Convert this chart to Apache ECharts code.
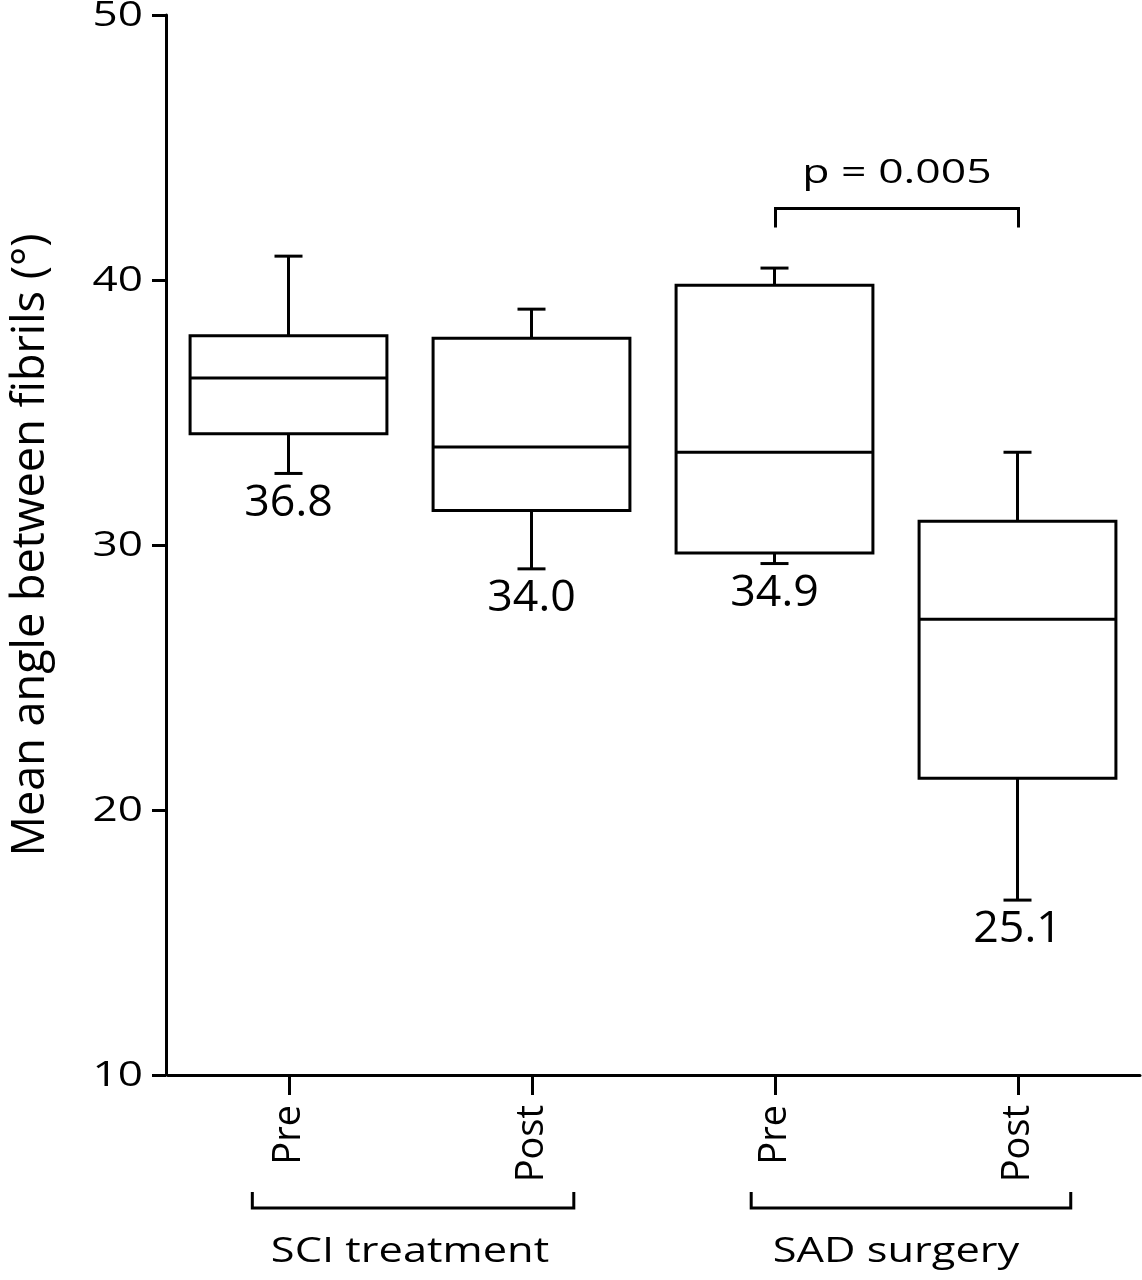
<!DOCTYPE html>
<html>
<head>
<meta charset="utf-8">
<script src="https://cdn.jsdelivr.net/npm/echarts@6/dist/echarts.min.js"></script>
<style>
html,body{margin:0;padding:0;background:#fff;}
#chart{width:1142px;height:1280px;}
</style>
</head>
<body>
<div id="chart"></div>
<script>
// ---- data ----
var categories = ['Pre', 'Post', 'Pre', 'Post'];
var whiskerLow = [32.7, 29.1, 29.3, 16.6];
var q1 = [34.2, 31.3, 29.7, 21.2];
var median = [36.3, 33.7, 33.5, 27.2];
var q3 = [37.9, 37.8, 39.8, 30.9];
var whiskerHigh = [40.9, 38.9, 40.45, 33.5];
var meanLabels = ['36.8', '34.0', '34.9', '25.1'];
var yTicks = [10, 20, 30, 40, 50];
var groupNames = ['SCI treatment', 'SAD surgery'];
var groupStart = [0, 2];
var groupEnd = [1, 3];
var sigText = 'p = 0.005';
var sigFrom = 2, sigTo = 3, sigValue = 42.7;

var FONT = '"Open Sans", "Noto Sans", sans-serif';
var LW = 3;
var Y_OFFSET = 2;

var boxData = categories.map(function (c, i) {
  return [i, whiskerLow[i], q1[i], median[i], q3[i], whiskerHigh[i]];
});
var groupData = groupNames.map(function (g, i) { return [groupStart[i], groupEnd[i], yTicks[0]]; });
var tickData = yTicks.map(function (v) { return [0, v]; });

var chart = echarts.init(document.getElementById('chart'), null, {renderer: 'canvas'});

function renderBox(params, api) {
  var i = api.value(0);
  var lo = api.coord([i, api.value(1)]);
  var b1 = api.coord([i, api.value(2)]);
  var md = api.coord([i, api.value(3)]);
  var b3 = api.coord([i, api.value(4)]);
  var hi = api.coord([i, api.value(5)]);
  var cx = lo[0] - 1;
  var band = api.size([1, 0])[0];
  var hw = band * 0.405;
  var cw = 14;
  var ls = {stroke: '#000', lineWidth: LW, fill: null};
  return {
    type: 'group',
    children: [
      {type: 'line', shape: {x1: cx, y1: hi[1], x2: cx, y2: b3[1]}, style: ls},
      {type: 'line', shape: {x1: cx - cw, y1: hi[1], x2: cx + cw, y2: hi[1]}, style: ls},
      {type: 'line', shape: {x1: cx, y1: lo[1], x2: cx, y2: b1[1]}, style: ls},
      {type: 'line', shape: {x1: cx - cw, y1: lo[1], x2: cx + cw, y2: lo[1]}, style: ls},
      {type: 'rect', shape: {x: cx - hw, y: b3[1], width: hw * 2, height: b1[1] - b3[1]},
        style: {stroke: '#000', lineWidth: LW, fill: '#fff'}},
      {type: 'line', shape: {x1: cx - hw, y1: md[1], x2: cx + hw, y2: md[1]}, style: ls},
      {type: 'text', x: cx, y: lo[1] + 30, scaleX: 1.04,
        style: {text: meanLabels[params.dataIndex], x: 0, y: 0,
        textAlign: 'center', textVerticalAlign: 'middle', font: '43px ' + FONT, fill: '#000'}}
    ]
  };
}

function renderTickLabel(params, api) {
  var p = api.coord([api.value(0), api.value(1)]);
  var band = api.size([1, 0])[0];
  var axisX = p[0] - band / 2 - Y_OFFSET;
  return {
    type: 'text', x: axisX - 23, y: p[1] + 1, scaleX: 1.26,
    style: {text: String(api.value(1)), x: 0, y: 0, textAlign: 'right', textVerticalAlign: 'middle',
      font: '35px ' + FONT, fill: '#000'}
  };
}

function renderGroup(params, api) {
  var s = api.coord([api.value(0), api.value(2)]);
  var e = api.coord([api.value(1), api.value(2)]);
  var band = api.size([1, 0])[0];
  var offL = params.dataIndex === 0 ? -0.153 : -0.1;
  var offR = params.dataIndex === 0 ? 0.17 : 0.215;
  var x1 = s[0] + offL * band, x2 = e[0] + offR * band;
  var yb = s[1] + 133, yt = s[1] + 117;
  var ls = {stroke: '#000', lineWidth: LW, fill: null};
  return {
    type: 'group',
    children: [
      {type: 'polyline', shape: {points: [[x1, yt], [x1, yb], [x2, yb], [x2, yt]]}, style: ls},
      {type: 'text', x: (s[0] + e[0]) / 2 - 1, y: s[1] + 177, scaleX: 1.24,
        style: {text: groupNames[params.dataIndex], x: 0, y: 0,
        textAlign: 'center', textVerticalAlign: 'middle', font: '35px ' + FONT, fill: '#000'}}
    ]
  };
}

function renderSig(params, api) {
  var a = api.coord([api.value(0), api.value(2)]);
  var b = api.coord([api.value(1), api.value(2)]);
  var drop = 19;
  var ls = {stroke: '#000', lineWidth: LW, fill: null};
  return {
    type: 'group',
    children: [
      {type: 'polyline', shape: {points: [[a[0], a[1] + drop], [a[0], a[1]], [b[0], b[1]], [b[0], b[1] + drop]]}, style: ls},
      {type: 'text', x: (a[0] + b[0]) / 2, y: a[1] - 35, scaleX: 1.35,
        style: {text: sigText, x: 0, y: 0,
        textAlign: 'center', textVerticalAlign: 'middle', font: '33px ' + FONT, fill: '#000'}}
    ]
  };
}

chart.setOption({
  animation: false,
  backgroundColor: '#fff',
  grid: {left: 168, right: 2, top: 15, bottom: 205, containLabel: false},
  xAxis: {
    type: 'category',
    data: categories,
    axisLine: {show: true, lineStyle: {color: '#000', width: LW}},
    axisTick: {show: true, alignWithLabel: true, length: 20, lineStyle: {color: '#000', width: LW}},
    axisLabel: {rotate: 90, margin: 30, color: '#000', fontSize: 38, fontFamily: FONT},
    splitLine: {show: false}
  },
  yAxis: {
    type: 'value',
    offset: Y_OFFSET,
    min: yTicks[0], max: yTicks[yTicks.length - 1], interval: 10,
    name: 'Mean angle between fibrils (°)',
    nameLocation: 'middle',
    nameGap: 112,
    nameTextStyle: {color: '#000', fontSize: 45, fontFamily: FONT},
    axisLine: {show: true, lineStyle: {color: '#000', width: LW}},
    axisTick: {show: true, length: 14, lineStyle: {color: '#000', width: LW}},
    axisLabel: {show: false},
    splitLine: {show: false}
  },
  series: [
    {type: 'custom', renderItem: renderBox, data: boxData, clip: false,
      encode: {x: 0, y: [1, 2, 3, 4, 5]}},
    {type: 'custom', renderItem: renderTickLabel, data: tickData, clip: false,
      encode: {x: 0, y: 1}},
    {type: 'custom', renderItem: renderGroup, data: groupData, clip: false,
      encode: {x: [0, 1], y: 2}},
    {type: 'custom', renderItem: renderSig, data: [[sigFrom, sigTo, sigValue]], clip: false,
      encode: {x: [0, 1], y: 2}}
  ]
});
</script>
</body>
</html>
